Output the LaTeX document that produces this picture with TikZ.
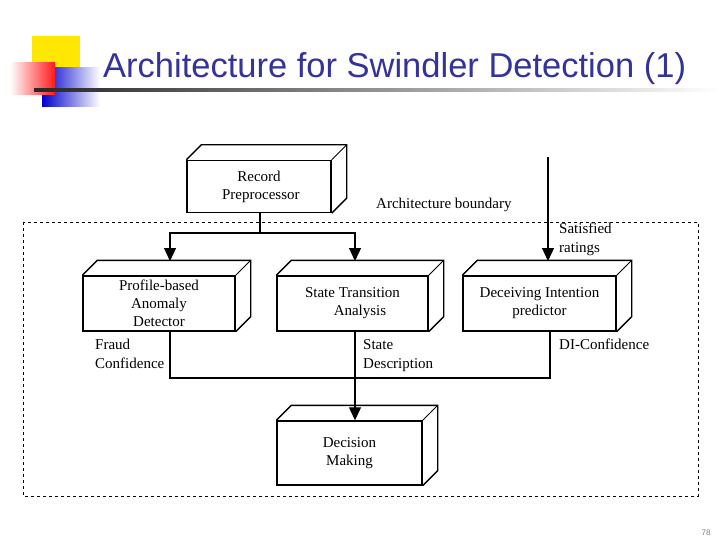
\documentclass[tikz,border=0pt]{standalone}
\usepackage{fontspec}
\setmainfont{Liberation Serif}
\newfontfamily\titlefont{Liberation Sans}
\usetikzlibrary{arrows.meta,calc}
\definecolor{titleblue}{RGB}{51,51,153}
\tikzset{
	block/.style={draw, line width=1.4pt, fill=white, minimum width=#1, minimum height=52pt, align=center, inner sep=1pt, font=\fontsize{15}{18}\selectfont},
	block/.default=150pt,
	flow/.style={line width=1.2pt, -{Triangle[length=13pt,width=12pt]}},
	lbl/.style={font=\fontsize{15}{19}\selectfont, align=left, anchor=north west, inner sep=0pt}
}
\newcommand{\cube}[1]{% top and right faces of a block
	\draw[line width=1.4pt] (#1.north west) -- ++(15,-15) -| ($(#1.south east)+(15,-15)$) -- (#1.south east);
	\draw[line width=1pt] (#1.north east) -- ++(15,-15);
}
\begin{document}
\begin{tikzpicture}[x=1pt,y=-1pt]
	\useasboundingbox (0,0) rectangle (720,540);
	% title logo
	\fill[yellow!90!orange] (32,36) rectangle (80,82);
	\fill[left color=blue!80!black, right color=white] (42,68) rectangle (100,107);
	\fill[left color=white, right color=red!90] (10,63) rectangle (55,95);
	\shade[left color=black!85, right color=white] (34,89) rectangle (720,92);
	\node[font=\titlefont\fontsize{34.5}{36}\selectfont, text=titleblue, anchor=base west, inner sep=0pt] (title) at (103,78) {Architecture for Swindler Detection (1)};
	% boundary
	\draw[dashed] (23,222) rectangle (698,496);
	% blocks
	\node[block=144pt] (rec) at (259,186.5) {Record\\ \ Preprocessor};
	\node[block=152pt, minimum height=55pt] (prof) at (159,303.5) {Profile-based\\Anomaly\\Detector};
	\node[block=151pt, minimum height=55pt] (sta) at (352.5,303.5) {State Transition\\ \quad Analysis};
	\node[block=153pt, minimum height=55pt] (dec) at (539.5,303.5) {Deceiving Intention\\predictor};
	\node[block=145pt, minimum height=64pt] (mak) at (349.5,453) {Decision\\Making};
	\cube{rec}
	\cube{prof}
	\cube{sta}
	\cube{dec}
	\cube{mak}
	% connectors
	\coordinate (split) at (260,233);
	\coordinate (sat) at (548,157);
	\draw[line width=1.2pt] (rec.south -| split) -- (split);
	\draw[flow] (split) -| (170,261);
	\draw[flow] (split) -| (355,261);
	\draw[flow] (sat) -- (548,261);
	\draw[line width=1.2pt] (prof.south -| 170,0) |- (550,378) -- (dec.south -| 550,0);
	\draw[flow] (sta.south -| 355,0) -- (mak.north -| 355,0);
	% labels
	\node[lbl] (bnd) at (376,198) {Architecture boundary};
	\node[lbl] (satl) at (559,223) {Satisfied\\ratings};
	\node[lbl] (fraud) at (95,339) {Fraud\\Confidence};
	\node[lbl] (sdesc) at (363,339) {State\\Description};
	\node[lbl] (dic) at (559,339) {DI-Confidence};
	\node[font=\titlefont\fontsize{8}{9}\selectfont, text=gray] (page) at (706,533) {78};
\end{tikzpicture}
\end{document}
